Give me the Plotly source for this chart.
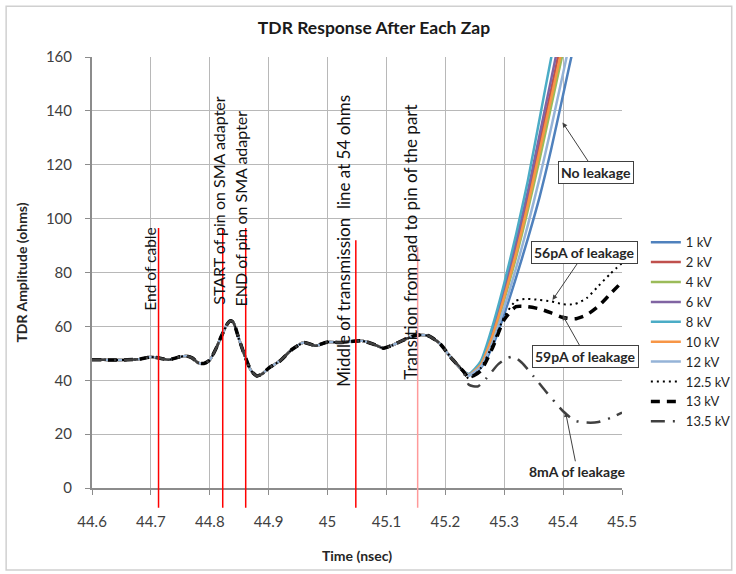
import plotly.graph_objects as go

# ---------------- data ----------------
common_t = [44.60, 44.62, 44.64, 44.66, 44.68, 44.70, 44.72, 44.73, 44.75, 44.76,
            44.77, 44.78, 44.79, 44.80, 44.81, 44.82, 44.83, 44.835, 44.84, 44.85,
            44.86, 44.87, 44.88, 44.89, 44.90, 44.92, 44.94, 44.96, 44.98, 45.00,
            45.02, 45.04, 45.06, 45.08, 45.095, 45.11, 45.13, 45.15, 45.17, 45.19,
            45.21, 45.23]
common_v = [47.6, 47.6, 47.5, 47.6, 47.8, 48.6, 48.0, 47.6, 48.7, 49.0,
            48.3, 46.5, 46.2, 47.5, 51.5, 56.5, 61.0, 62.1, 61.5, 55.0,
            48.8, 43.6, 41.6, 42.5, 44.5, 47.3, 51.5, 54.0, 52.8, 54.2,
            54.0, 54.4, 54.6, 53.2, 51.9, 53.0, 55.0, 56.7, 56.6, 53.8,
            48.3, 43.5]

rise_t = [45.24, 45.26, 45.28, 45.30, 45.32, 45.34, 45.36, 45.38, 45.40, 45.42, 45.44]
v_1kv = [41.8, 44.5, 52.5, 64.5, 78.0, 92.5, 108, 126, 146, 166, 185]
v_2kv = [42.1, 46.2, 57.5, 72.5, 89.0, 107.5, 128, 148, 169, 188, 203]
v_4kv = [42.0, 45.5, 55.7, 69.8, 85.5, 103, 122, 142, 162, 181, 198]
v_6kv = [42.2, 46.5, 58.5, 74.0, 91.0, 110, 131, 152, 173, 191, 206]
v_8kv = [42.3, 47.0, 60.0, 76.0, 94.0, 114, 137, 160, 180, 195, 210]
v_10kv = [42.0, 45.8, 56.5, 71.0, 87.0, 105, 125, 145, 165, 184, 200]
v_12kv = [41.9, 45.0, 54.0, 67.0, 81.5, 97.5, 115, 134, 154, 174, 192]

t_125kv = [45.24, 45.26, 45.28, 45.30, 45.32, 45.34, 45.36, 45.38, 45.40, 45.42,
           45.44, 45.46, 45.48, 45.50]
v_125kv = [40.5, 44.5, 53.0, 63.5, 69.5, 70.2, 69.8, 69.3, 68.2, 68.3,
           70.5, 75.0, 79.5, 83.5]
t_13kv = [45.24, 45.26, 45.28, 45.30, 45.32, 45.34, 45.36, 45.38, 45.40, 45.42,
          45.44, 45.46, 45.48, 45.50]
v_13kv = [41.0, 43.5, 52.0, 62.5, 67.3, 67.3, 66.5, 65.0, 63.3, 62.8,
          64.3, 67.5, 72.0, 76.5]
t_135kv = [45.24, 45.255, 45.27, 45.29, 45.305, 45.316, 45.33, 45.35, 45.37, 45.40,
           45.42, 45.44, 45.46, 45.48, 45.50]
v_135kv = [38.3, 37.7, 40.8, 46.0, 48.2, 48.8, 46.5, 41.4, 36.0, 28.5,
           25.0, 24.3, 24.5, 26.0, 28.0]

series_names = ["1 kV", "2 kV", "4 kV", "6 kV", "8 kV", "10 kV", "12 kV",
                "12.5 kV", "13 kV", "13.5 kV"]

event_t = [44.713, 44.822, 44.861, 45.048, 45.153]
event_top = [96.5, 96.5, 96.5, 92.0, 89.5]
event_labels = ["End of cable", "START of pin on SMA adapter", "END of pin on SMA adapter",
                "Middle of transmission  line at 54 ohms", "Transition from pad to pin of the part"]

x_ticks = [44.6, 44.7, 44.8, 44.9, 45.0, 45.1, 45.2, 45.3, 45.4, 45.5]
x_ticktext = ["44.6", "44.7", "44.8", "44.9", "45", "45.1", "45.2", "45.3", "45.4", "45.5"]
y_ticks = [0, 20, 40, 60, 80, 100, 120, 140, 160]

# ---------------- figure ----------------
FONT = "Lato, 'Open Sans', sans-serif"
fig = go.Figure()

tails = [(rise_t, v_1kv), (rise_t, v_2kv), (rise_t, v_4kv), (rise_t, v_6kv),
         (rise_t, v_8kv), (rise_t, v_10kv), (rise_t, v_12kv),
         (t_125kv, v_125kv), (t_13kv, v_13kv), (t_135kv, v_135kv)]
styles = [
    dict(color="#4F81BD", width=2.5),
    dict(color="#C0504D", width=2.5),
    dict(color="#9BBB59", width=2.5),
    dict(color="#8064A2", width=2.5),
    dict(color="#4BACC6", width=2.5),
    dict(color="#F79646", width=2.5),
    dict(color="#95B3D7", width=2.5),
    dict(color="#000000", width=2, dash="2px,4px"),
    dict(color="#000000", width=3.5, dash="9px,7px"),
    dict(color="#404040", width=2.5, dash="14px,8px,2px,8px"),
]
for name, (tt, vv), st in zip(series_names, tails, styles):
    fig.add_trace(go.Scatter(x=common_t + tt, y=common_v + vv, mode="lines",
                             name=name, line=dict(shape="spline", smoothing=0.6, **st)))

shapes = []
for i, (t, top) in enumerate(zip(event_t, event_top)):
    shapes.append(dict(type="line", xref="x", yref="paper", x0=t, x1=t,
                       y0=-0.046, y1=top / 160.0,
                       line=dict(color="#FF0000" if i < 4 else "#FF9A9A", width=1.5),
                       layer="above"))
# outer chart border
shapes.append(dict(type="rect", xref="paper", yref="paper",
                   x0=-0.162, x1=1.207, y0=-0.19, y1=1.118,
                   line=dict(color="#D0D0D0", width=1.5)))

ann = []
label_pos = [(44.699, 65), (44.8145, 67.2), (44.852, 66.8), (45.027, 37), (45.1405, 39.4)]
label_size = [15.5, 16, 16, 17, 17]
for text, (lx, ly), fs in zip(event_labels, label_pos, label_size):
    ann.append(dict(x=lx, y=ly, xref="x", yref="y", text=text, textangle=-90,
                    showarrow=False, xanchor="center", yanchor="bottom",
                    font=dict(family=FONT, size=fs, color="#111111")))

def callout(text, x, y, ax, ay, box=True):
    return dict(x=x, y=y, xref="x", yref="y", ax=ax, ay=ay, text="<b>" + text + "</b>",
                showarrow=True, arrowhead=2, arrowsize=1, arrowwidth=1, arrowcolor="#404040",
                font=dict(family=FONT, size=14, color="#262626"),
                bgcolor="white" if box else None,
                bordercolor="#404040" if box else None,
                borderwidth=1 if box else 0, borderpad=2)

ann.append(callout("No leakage", 45.399, 135.7, 33, 50))
ann.append(callout("56pA of leakage", 45.382, 69.8, 32, -47))
ann.append(callout("59pA of leakage", 45.399, 64.2, 23, 41))
ann.append(callout("8mA of leakage", 45.404, 28.3, 12, 60, box=False))

fig.update_layout(
    width=736, height=574, autosize=False,
    margin=dict(l=92, r=114, t=57, b=86, autoexpand=False),
    paper_bgcolor="white", plot_bgcolor="white",
    title=dict(text="<b>TDR Response After Each Zap</b>", x=374 / 736, xanchor="center",
               y=1 - 28 / 574, yanchor="middle",
               font=dict(family=FONT, size=17.5, color="#1a1a1a")),
    font=dict(family=FONT, size=13, color="#404040"),
    showlegend=True,
    legend=dict(x=1.045, y=0.605, xanchor="left", yanchor="top",
                font=dict(family=FONT, size=13, color="#262626"),
                tracegroupgap=0, itemwidth=30, bgcolor="rgba(0,0,0,0)"),
    shapes=shapes, annotations=ann,
)
fig.update_xaxes(range=[44.6, 45.5], tickvals=x_ticks, ticktext=x_ticktext,
                 showgrid=True, gridcolor="#B8B8B8", gridwidth=1,
                 showline=True, linecolor="#8C8C8C", linewidth=2,
                 ticks="outside", ticklen=5, tickcolor="#8C8C8C",
                 ticklabelstandoff=14,
                 tickfont=dict(family=FONT, size=15, color="#404040"),
                 title=dict(text="<b>Time (nsec)</b>", standoff=22,
                            font=dict(family=FONT, size=14, color="#262626")),
                 zeroline=False)
fig.update_yaxes(range=[0, 160], tickvals=y_ticks,
                 showgrid=True, gridcolor="#B8B8B8", gridwidth=1,
                 showline=True, linecolor="#8C8C8C", linewidth=2,
                 ticks="outside", ticklen=5, tickcolor="#8C8C8C",
                 ticklabelstandoff=10,
                 tickfont=dict(family=FONT, size=15, color="#404040"),
                 title=dict(text="<b>TDR Amplitude (ohms)</b>", standoff=15,
                            font=dict(family=FONT, size=14, color="#262626")),
                 zeroline=False)

fig.write_html("out.html", config={"displayModeBar": False},
               post_script="document.body.style.margin='0px';")
